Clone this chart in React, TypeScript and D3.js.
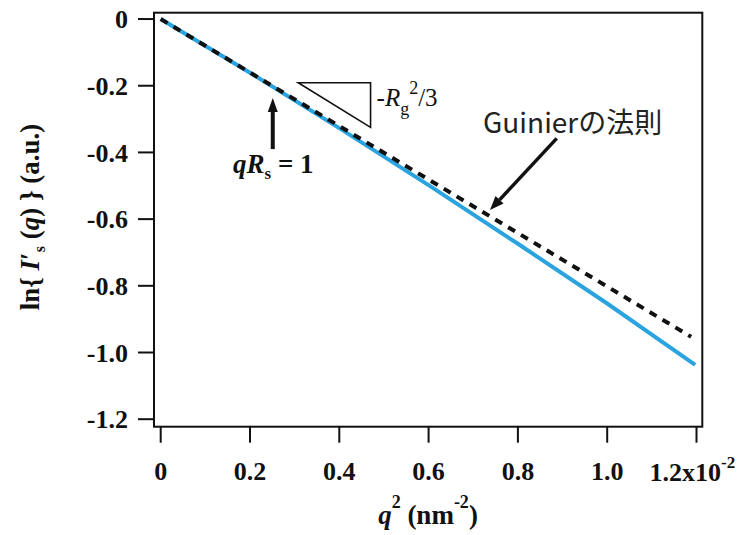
import React from "react";
import * as d3 from "d3";

// Data (x in units of 10^-2 nm^-2)
const blueQ2 = [0, 0.2, 0.4, 0.6, 0.8, 1.0, 1.197];
const blueLnI = [0, -0.161, -0.327, -0.498, -0.674, -0.853, -1.037];
const guinierQ2 = [0, 1.188];
const guinierLnI = [0, -0.953];

const xTickValues = [0, 0.2, 0.4, 0.6, 0.8, 1.0, 1.2];
const xTickLabels = ["0", "0.2", "0.4", "0.6", "0.8", "1.0", "1.2x10"];
const yTickValues = [0, -0.2, -0.4, -0.6, -0.8, -1.0, -1.2];
const yTickLabels = ["0", "-0.2", "-0.4", "-0.6", "-0.8", "-1.0", "-1.2"];

// annotation anchors (data units)
const triangle = { x0: 0.308, x1: 0.47, yTop: -0.191, yBot: -0.325 };
const qrsArrow = { x: 0.251, tip: -0.237, tail: -0.39 };
const guinierArrow = { x0: 0.887, y0: -0.358, x1: 0.7375, y1: -0.573 };
const guinierLabel = { x: 0.722, y: -0.342, text: "Guinierの法則" };

const W = 747;
const H = 535;
const serifStyle = { fontFamily: "Liberation Serif, Times New Roman, DejaVu Serif, serif" };

export default function App() {
  const x = d3.scaleLinear().domain([-0.015, 1.213]).range([154, 702.3]);
  const y = d3.scaleLinear().domain([0.019, -1.2225]).range([12.7, 426.7]);
  const [xl, xr] = x.range();
  const [yt, yb] = y.range();

  const line = d3
    .line<[number, number]>()
    .x((d) => x(d[0]))
    .y((d) => y(d[1]));
  const blue = line(blueQ2.map((q, i) => [q, blueLnI[i]]) as [number, number][]);
  const guin = line(guinierQ2.map((q, i) => [q, guinierLnI[i]]) as [number, number][]);

  const gx0 = x(guinierArrow.x0), gy0 = y(guinierArrow.y0);
  const gx1 = x(guinierArrow.x1), gy1 = y(guinierArrow.y1);
  const ang = Math.atan2(gy1 - gy0, gx1 - gx0);
  const hl = 14, hw = 5.5;
  const bx = gx1 - hl * Math.cos(ang), by = gy1 - hl * Math.sin(ang);
  const head = [
    [gx1, gy1],
    [bx + hw * Math.sin(ang), by - hw * Math.cos(ang)],
    [bx - hw * Math.sin(ang), by + hw * Math.cos(ang)],
  ];

  const ax = x(qrsArrow.x), aTip = y(qrsArrow.tip), aTail = y(qrsArrow.tail);

  return (
    <svg
      width={W}
      height={H}
      style={{ position: "absolute", left: 0, top: 0, background: "#fff" }}
    >
      <rect x={xl} y={yt} width={xr - xl} height={yb - yt} fill="none" stroke="#111" strokeWidth={2} />

      {yTickValues.map((v, i) => (
        <g key={"y" + i}>
          <line x1={xl - 16} x2={xl} y1={y(v)} y2={y(v)} stroke="#111" strokeWidth={2} />
          <text
            x={128}
            y={y(v)}
            dy="0.35em"
            textAnchor="end"
            style={serifStyle}
            fontWeight="bold"
            fontSize={26}
            fill="#111"
          >
            {yTickLabels[i]}
          </text>
        </g>
      ))}

      {xTickValues.map((v, i) => (
        <g key={"x" + i}>
          <line x1={x(v)} x2={x(v)} y1={yb} y2={yb + 16} stroke="#111" strokeWidth={2} />
          {i < xTickValues.length - 1 ? (
            <text
              x={x(v)}
              y={480}
              textAnchor="middle"
              style={serifStyle}
              fontWeight="bold"
              fontSize={26}
              fill="#111"
            >
              {xTickLabels[i]}
            </text>
          ) : (
            <text x={x(v) - 47} y={481} style={serifStyle} fontWeight="bold" fontSize={26} fill="#111">
              {xTickLabels[i]}
              <tspan dy={-13} fontSize={17}>-2</tspan>
            </text>
          )}
        </g>
      ))}

      <text
        x={428}
        y={524}
        textAnchor="middle"
        style={serifStyle}
        fontWeight="bold"
        fontSize={27}
        fill="#111"
      >
        <tspan fontStyle="italic">q</tspan>
        <tspan dy={-16} fontSize={18}>2</tspan>
        <tspan dy={16}>{"  (nm"}</tspan>
        <tspan dy={-16} fontSize={18}>-2</tspan>
        <tspan dy={16}>)</tspan>
      </text>

      <text
        transform={`translate(39,217) rotate(-90)`}
        textAnchor="middle"
        style={serifStyle}
        fontWeight="bold"
        fontSize={27}
        fill="#111"
      >
        {"ln{ "}
        <tspan fontStyle="italic">I</tspan>
        {"′"}
        <tspan dy={6} fontSize={16}>s</tspan>
        <tspan dy={-6}>{" ("}</tspan>
        <tspan fontStyle="italic">q</tspan>
        {") } (a.u.)"}
      </text>

      <path d={blue ?? ""} fill="none" stroke="#2aa3df" strokeWidth={4} />
      <path d={guin ?? ""} fill="none" stroke="#111" strokeWidth={4} strokeDasharray="8,7" />

      <path
        d={`M${x(triangle.x0)},${y(triangle.yTop)} L${x(triangle.x1)},${y(triangle.yTop)} L${x(triangle.x1)},${y(
          triangle.yBot
        )} Z`}
        fill="none"
        stroke="#111"
        strokeWidth={1.6}
      />
      <text x={x(triangle.x1) + 6} y={106} style={serifStyle} fontSize={25} fill="#111">
        -<tspan fontStyle="italic">R</tspan>
        <tspan dy={9} fontSize={18}>g</tspan>
        <tspan dy={-21} fontSize={18}>2</tspan>
        <tspan dy={12}>/3</tspan>
      </text>

      <line x1={ax} x2={ax} y1={aTail} y2={aTip + 12} stroke="#111" strokeWidth={4} />
      <polygon points={`${ax},${aTip} ${ax - 5},${aTip + 14} ${ax + 5},${aTip + 14}`} fill="#111" />
      <text x={233} y={173} style={serifStyle} fontWeight="bold" fontSize={27} fill="#111">
        <tspan fontStyle="italic">qR</tspan>
        <tspan dy={6} fontSize={17}>s</tspan>
        <tspan dy={-6}>{" = 1"}</tspan>
      </text>

      <text
        x={x(guinierLabel.x)}
        y={y(guinierLabel.y)}
        style={{ fontFamily: "Noto Sans CJK JP, Noto Sans, sans-serif" }}
        fontSize={28}
        fill="#222"
      >
        {guinierLabel.text}
      </text>
      <line x1={gx0} y1={gy0} x2={bx} y2={by} stroke="#111" strokeWidth={3.5} />
      <polygon points={head.map((p) => p.join(",")).join(" ")} fill="#111" />
    </svg>
  );
}
